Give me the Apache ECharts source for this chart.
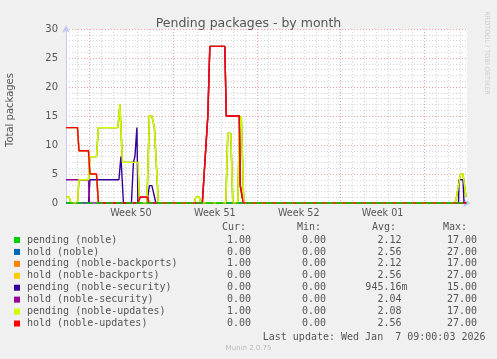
<!DOCTYPE html>
<html><head><meta charset="utf-8">
<script src="https://cdn.jsdelivr.net/npm/echarts@6/dist/echarts.min.js"></script>
<style>html,body{margin:0;padding:0;background:#F0F0F0;}#c{width:497px;height:359px;}</style>
</head><body><div id="c"></div>
<script>
// Time axis: hours relative to Sunday 7 Dec 2025 00:00
const xMin = -46, xMax = 757;
const weekLabels = ['Week 50', 'Week 51', 'Week 52', 'Week 01'];
const weekLabelHours = [84, 252, 420, 588];
const yTicks = [0, 5, 10, 15, 20, 25, 30];

const seriesNames = ['pending (noble)', 'hold (noble)', 'pending (noble-backports)', 'hold (noble-backports)',
  'pending (noble-security)', 'hold (noble-security)', 'pending (noble-updates)', 'hold (noble-updates)'];
const seriesColors = ['#00CC00', '#0066B3', '#FF8000', '#FFCC00', '#330099', '#990099', '#CCFF00', '#FF0000'];

// [hour, packages]
const pendingUpdates = [[-46,1],[-40,1],[-36,0],[-23,0],[-20,4],[-1,4],[2,8],[15,8],[19,13],[58,13],[62,17],[64,17],[67,7],[98,7],[101,0],[116,0],[121,15],[126,15],[131,13],[139,0],[211,0],[214,1],[221,1],[224,0],[274,0],[278,12],[284,12],[288,0],[298,0],[301,12],[305,15],[310,0],[733,0],[736,1],[739,1],[744,5],[749,5],[752,3],[755,1]];
const pendingNoble = [[-46,1],[-40,1],[-36,0],[-23,0],[-20,4],[-1,4],[2,8],[15,8],[19,13],[58,13],[62,17],[64,17],[67,7],[98,7],[101,0],[116,0],[121,15],[126,15],[131,13],[139,0],[211,0],[214,1],[221,1],[224,0],[274,0],[278,12],[284,12],[288,0],[298,0],[301,12],[305,15],[310,0],[733,0],[736,1],[739,1],[744,5],[749,5],[752,3],[755,1]];
const pendingBackports = [[-46,1],[-40,1],[-36,0],[-23,0],[-20,4],[-1,4],[2,8],[15,8],[19,13],[58,13],[62,17],[64,17],[67,7],[98,7],[101,0],[116,0],[121,15],[126,15],[131,13],[139,0],[211,0],[214,1],[221,1],[224,0],[274,0],[278,12],[284,12],[288,0],[298,0],[301,12],[305,15],[310,0],[733,0],[736,1],[739,1],[744,5],[749,5],[752,3],[755,1]];
const pendingSecurity = [[-46,0],[-1,0],[2,4],[60,4],[64,8],[69,0],[85,0],[89,7],[92,8],[96,13],[98,0],[116,0],[121,3],[126,3],[134,0],[740,0],[741,4],[749,4],[751,0],[755,0]];
const holdUpdates = [[-46,13],[-23,13],[-20,9],[-1,9],[2,5],[15,5],[19,0],[99,0],[102,1],[117,1],[120,0],[227,0],[238,15],[242,27],[272,27],[275,15],[301,15],[303,3],[306,3],[309,0],[755,0]];
const holdNoble = [[-46,13],[-23,13],[-20,9],[-1,9],[2,5],[15,5],[19,0],[99,0],[102,1],[117,1],[120,0],[227,0],[238,15],[242,27],[272,27],[275,15],[301,15],[303,3],[306,3],[309,0],[755,0]];
const holdBackports = [[-46,13],[-23,13],[-20,9],[-1,9],[2,5],[15,5],[19,0],[99,0],[102,1],[117,1],[120,0],[227,0],[238,15],[242,27],[272,27],[275,15],[301,15],[303,3],[306,3],[309,0],[755,0]];
const holdSecurity = [[-46,4],[-1,4],[1,0],[99,0],[102,1],[117,1],[120,0],[227,0],[238,15],[242,27],[272,27],[275,15],[301,15],[303,3],[306,3],[309,0],[755,0]];

const curVals = ['1.00', '0.00', '1.00', '0.00', '0.00', '0.00', '1.00', '0.00'];
const minVals = ['0.00', '0.00', '0.00', '0.00', '0.00', '0.00', '0.00', '0.00'];
const avgVals = ['2.12', '2.56', '2.12', '2.56', '945.16m', '2.04', '2.08', '2.56'];
const maxVals = ['17.00', '27.00', '17.00', '27.00', '15.00', '27.00', '17.00', '27.00'];
const lastUpdate = 'Last update: Wed Jan  7 09:00:03 2026';

const seriesData = [pendingNoble, holdNoble, pendingBackports, holdBackports, pendingSecurity, holdSecurity, pendingUpdates, holdUpdates];

const weekLines = [], dayLines = [];
for (let h = 0; h <= xMax; h += 168) weekLines.push(h);
for (let h = -24; h <= xMax; h += 24) if (h % 168 !== 0) dayLines.push(h);

const minorGrid = '#D4D4D4', majorGrid = '#EBA0A0', axisCol = '#C8C8F8', fontCol = '#555555';
const mono = '10px "DejaVu Sans Mono"';

const graphics = [];
graphics.push({type:'text', x:10.5, y:110, rotation:Math.PI/2, silent:true,
  style:{text:'Total packages', font:'10px "DejaVu Sans"', fill:fontCol, align:'center', verticalAlign:'middle'}});
graphics.push({type:'text', x:487, y:53, rotation:-Math.PI/2, silent:true,
  style:{text:'RRDTOOL / TOBI OETIKER', font:'6.5px "DejaVu Sans"', fill:'#CCCCCC', align:'center', verticalAlign:'middle'}});
const headY = 227.5, rowY0 = 240, rowStep = 11.93;
[['Cur:',222],['Min:',297],['Avg:',372],['Max:',443]].forEach(([t,x]) => {
  graphics.push({type:'text', x:x, y:headY, silent:true, style:{text:t, font:mono, fill:fontCol, align:'left', verticalAlign:'middle'}});
});
const colRight = [257, 332, 407.5, 483];
seriesNames.forEach((n, i) => {
  const y = rowY0 + i * rowStep;
  graphics.push({type:'rect', silent:true, shape:{x:14, y:y-3, width:6, height:6}, style:{fill:seriesColors[i]}});
  graphics.push({type:'text', x:27, y:y, silent:true, style:{text:n, font:mono, fill:fontCol, align:'left', verticalAlign:'middle'}});
  [curVals[i], minVals[i], avgVals[i], maxVals[i]].forEach((v, k) => {
    const txt = /[0-9]$/.test(v) ? v + ' ' : v;
    graphics.push({type:'text', x:colRight[k], y:y, silent:true, style:{text:txt, font:mono, fill:fontCol, align:'right', verticalAlign:'middle'}});
  });
});
graphics.push({type:'text', x:485.5, y:337.5, silent:true, style:{text:lastUpdate, font:mono, fill:fontCol, align:'right', verticalAlign:'middle'}});
graphics.push({type:'text', x:248.5, y:348, silent:true, style:{text:'Munin 2.0.75', font:'7px "DejaVu Sans"', fill:'#BBBBBB', align:'center', verticalAlign:'middle'}});

const series = seriesData.map((d, i) => {
  const s = {type:'line', name:seriesNames[i], data:d, xAxisIndex:1, yAxisIndex:0,
    showSymbol:false, symbol:'none', silent:true, animation:false,
    lineStyle:{width:1.4, color:seriesColors[i]}, itemStyle:{color:seriesColors[i]}, emphasis:{disabled:true}};
  if (i === 0) {
    s.markLine = {symbol:'none', silent:true, animation:false, label:{show:false},
      lineStyle:{color:seriesColors[0], type:[7,3], width:1.5}, data:[{yAxis:0}]};
  }
  return s;
});

const chart = echarts.init(document.getElementById('c'), null, {renderer:'canvas'});
chart.setOption({
  backgroundColor:'#F0F0F0',
  animation:false,
  title:{text:'Pending packages - by month', left:'center', top:12,
    textStyle:{fontFamily:'DejaVu Sans', fontSize:12.5, fontWeight:'normal', color:fontCol}},
  grid:{left:66, right:30, top:29, bottom:156, show:true, backgroundColor:'#FFFFFF', borderWidth:0},
  xAxis:[{
    type:'value', min:xMin, max:xMax, position:'top',
    axisLine:{show:false}, axisTick:{show:false, customValues:dayLines}, axisLabel:{show:false},
    splitLine:{show:true, lineStyle:{color:minorGrid, type:[1,2], width:1}}
  },{
    type:'value', min:xMin, max:xMax, position:'bottom',
    axisLine:{show:true, onZero:false, lineStyle:{color:axisCol, width:1}, symbol:['none','arrow'], symbolSize:[6,8], symbolOffset:[0,4]},
    axisTick:{show:false, customValues:weekLines},
    axisLabel:{customValues:weekLabelHours, formatter:v => weekLabels[weekLabelHours.indexOf(v)],
      color:fontCol, fontSize:9.6, fontFamily:'DejaVu Sans', margin:5},
    splitLine:{show:true, lineStyle:{color:majorGrid, type:[1,2], width:1}}
  }],
  yAxis:{
    type:'value', min:yTicks[0], max:yTicks[yTicks.length-1], interval:5,
    axisLine:{show:true, onZero:false, lineStyle:{color:axisCol, width:1}, symbol:['none','arrow'], symbolSize:[6,8], symbolOffset:[0,4]},
    axisTick:{show:false},
    axisLabel:{color:fontCol, fontSize:10, fontFamily:'DejaVu Sans', margin:8},
    splitLine:{show:true, lineStyle:{color:majorGrid, type:[1,2], width:1}},
    minorTick:{show:false, splitNumber:5},
    minorSplitLine:{show:true, lineStyle:{color:minorGrid, type:[1,2], width:1}}
  },
  series:series,
  graphic:graphics
});
</script></body></html>
